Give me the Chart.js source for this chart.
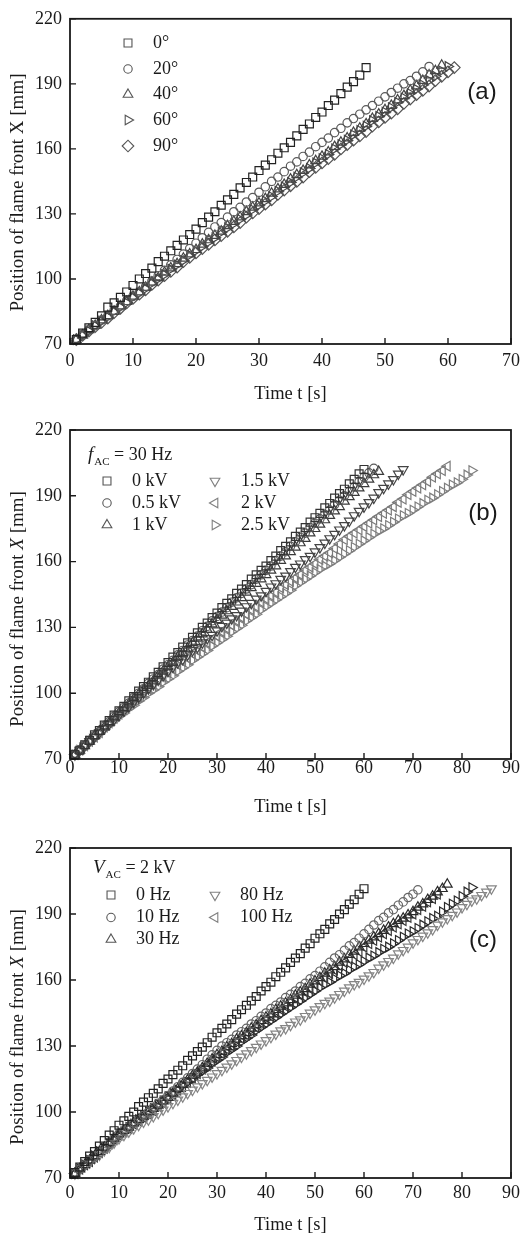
<!DOCTYPE html>
<html>
<head>
<meta charset="utf-8">
<script src="https://cdn.jsdelivr.net/npm/chart.js@4.4.1/dist/chart.umd.min.js"></script>
<style>
  html, body { margin: 0; padding: 0; background: #fff; }
  #wrap { position: relative; width: 531px; height: 1236px; }
  canvas { position: absolute; left: 0; }
</style>
</head>
<body>
<div id="wrap">
  <canvas id="chartA" width="531" height="410" style="top:0"></canvas>
  <canvas id="chartB" width="531" height="410" style="top:410px"></canvas>
  <canvas id="chartC" width="531" height="416" style="top:820px"></canvas>
</div>
<script>
// time stamps, one frame per second
const seconds = [1,2,3,4,5,6,7,8,9,10,11,12,13,14,15,16,17,18,19,20,21,22,23,24,25,26,27,28,29,30,
  31,32,33,34,35,36,37,38,39,40,41,42,43,44,45,46,47,48,49,50,51,52,53,54,55,56,57,58,59,60,
  61,62,63,64,65,66,67,68,69,70,71,72,73,74,75,76,77,78,79,80,81,82,83,84,85,86];

const xTicksA = [0, 10, 20, 30, 40, 50, 60, 70];
const xTicksBC = [0, 10, 20, 30, 40, 50, 60, 70, 80, 90];
const yTicks = [70, 100, 130, 160, 190, 220];

// (a) inclination angle
const angle0 = [72,75,77.5,80,83,87,89,91.5,94,97,100,102.5,105,108,110.5,113,115.5,118,120.5,123,
  126,128.5,131,134,136.5,139,142,144.5,147,150,152.5,155,158,160.5,163,166,169,171.5,174.5,177,
  180,182.5,185.5,188.5,191,194,197.5];
const angle20 = [72,74,76.5,78.5,81,83,85.5,87.5,90,92,94,96.5,99,101.5,104,106.5,109,111.5,114,116.5,
  119,121.5,124,126,128.5,131,133,135.5,137.5,140,142.5,145,147,149.5,152,154,156.5,158.5,161,163,
  165,167.5,169.5,172,174,176,178,180,182,184,186,188,190,191.5,193.5,195.5,198];
const angle40 = [72,74,76.5,78.5,81,83,85,87.5,89.5,92,94,96,98.5,100.5,103,105,107,109.5,111.5,113.5,
  116,118,120,122,124.5,126.5,128.5,131,133,135,137,139.5,141.5,143.5,146,148,150,152.5,154.5,156.5,
  158.5,161,163,165,167.5,169.5,171.5,174,176,178,180,182.5,184.5,187,189,191.5,194,196,198.5];
const angle60 = [72,74,76,78.5,80.5,82.5,85,87,89,91.5,93.5,95.5,98,100,102,104.5,106.5,108.5,111,113,
  115,117,119,121.5,123.5,125.5,127.5,129.5,132,134,136,138,140.5,142.5,144.5,147,149,151,153.5,155.5,
  157.5,160,162,164,166.5,168.5,170.5,173,175,177,179,181.5,183.5,185.5,187.5,189.5,191.5,193.5,196,198];
const angle90 = [72,74,76,78,80,82,84.5,86.5,89,91,93,95,97.5,99.5,101.5,103.5,105.5,108,110,112,
  114,116,118,120,122,124,126,128.5,130.5,132.5,134.5,136.5,139,141,143,145,147,149.5,151.5,153.5,
  155.5,157.5,160,162,164,166,168,170.5,172.5,174.5,176.5,178.5,181,183,185,187,189,191.5,193.5,195.5,197.5];

// (b) applied voltage at 30 Hz
const kv0 = [72,74,76.5,78.5,81,83,85.5,87.5,90,92,94,96.5,98.5,101,103,105,107.5,109.5,112,114,
  116.5,118.5,121,123,125.5,127.5,130,132,134.5,136.5,139,141,143,145.5,147.5,149.5,152,154,156,158,
  160.5,162.5,165,167,169,171.5,173.5,175.5,178,180,182,184.5,186.5,189,191,193,195.5,197.5,200,202];
const kv05 = [72,74,76,78.5,80.5,82.5,85,87,89.5,91.5,93.5,95.5,98,100,102,104.5,106.5,108.5,111,113,
  115,117.5,119.5,122,124,126,128.5,130.5,133,135,137,139,141.5,143.5,145.5,147.5,149.5,152,154,156,
  158,160.5,162.5,164.5,167,169,171,173,175.5,177.5,179.5,181.5,183.5,186,188,190,192,194,196.5,198.5,
  200.5,202.5];
const kv1 = [72,74,76,78,80.5,82.5,84.5,86.5,89,91,93,95,97.5,99.5,101.5,103.5,105.5,108,110,112,
  114,116.5,118.5,120.5,123,125,127,129,131.5,133.5,135.5,137.5,139.5,141.5,143.5,146,148,150,152,154,
  156,158,160.5,162.5,164.5,166.5,168.5,170.5,173,175,177,179,181,183,185,187.5,189.5,191.5,193.5,195.5,
  197.5,199.5,201];
const kv15 = [72,74,76,78,80,82,84,86,88,90,92,94,96,98,100,102,104,106,108,110,
  112,114,115.5,117.5,119.5,121,123,125,126.5,128.5,130.5,132,134,135.5,137.5,139.5,141,143,144.5,146.5,
  148.5,150,152,153.5,155.5,157.5,159,161,162.5,164.5,166.5,168.5,170.5,172.5,174.5,176.5,178.5,181,183,185,
  187,189,191.5,193.5,195.5,197.5,200,202];
const kv2 = [72,74,76,78,80,82,84.5,86.5,88.5,90.5,92.5,94.5,96.5,98.5,100,102,104,106,107.5,109.5,
  111,113,114.5,116,118,119.5,121,123,124.5,126,128,129.5,131,133,134.5,136,138,139.5,141.5,143,
  144.5,146,148,149.5,151,152.5,154,156,157.5,159,161,162.5,164,166,168,170,171.5,173,174.5,176,
  177.5,179,180.5,182,183.5,185,187,188.5,190.5,192,193.5,195,196.5,198.5,200,201.5,203.5];
const kv25 = [72,74,76,78,79.5,81.5,83.5,85.5,87.5,89.5,91,93,94.5,96.5,98,100,101.5,103,105,106.5,
  108,110,111.5,113,115,116.5,118,119.5,121.5,123,124.5,126,128,129.5,131,133,134.5,136,138,139.5,
  141,142.5,144,145.5,147,149,150.5,152,153.5,155,156.5,158,159,160.5,162,163.5,165,166.5,168,169.5,
  171,172.5,174,175,176.5,178,179.5,181,182,183.5,185,186.5,188,189,190.5,192,193.5,195,196,197.5,
  199.5,201.5];

// (c) frequency at 2 kV
const hz0 = [72.5,75,77.5,80,82,84.5,87,89.5,91.5,94,96,98,100,102.5,104.5,106.5,108.5,110.5,113,115,
  117,119,121,123.5,125.5,127.5,129.5,131.5,134,136,138,140,142,144.5,146.5,148.5,150.5,152.5,155,157,
  159,161.5,163.5,165.5,168,170,172,174.5,176.5,179,181,183,185.5,187.5,190,192,194.5,196.5,199,201.5];
const hz10 = [72,74,76,78,80,81.5,83.5,85.5,88,90,91.5,93,95,96.5,98.5,100,102,104,105.5,107.5,
  109.5,111.5,113.5,115.5,117.5,119.5,121.5,124,126,128,130,131.5,133,135,136.5,138,140,141.5,143.5,145,
  147,148.5,150,152,153.5,155,157,158.5,160.5,162,164,166,168,170,171.5,173.5,175.5,177,179,181,
  183,185,187,188.5,190.5,192,194,195.5,197.5,199,201];
const hz30 = [72,74,76,78,80,82,84,86,88,90,91.5,93,95,96.5,98,100,101.5,103,105,106.5,
  108.5,110.5,112.5,114.5,116.5,118,120,122,124,126,127.5,129.5,131,133,134.5,136,138,139.5,141.5,143,
  144.5,146.5,148,149.5,151,153,154.5,156,158,159.5,161,163,164.5,166,168,169.5,171.5,173,175,176.5,
  178,179.5,181,182.5,184,185.5,187,188,189.5,191,193,194.5,196.5,198,200,201.5,203.5];
const hz80 = [72,73.5,75.5,77,79,80.5,82.5,84,86,88,89.5,91,92.5,94,95.5,96.5,98,99.5,101,102.5,
  104,105.5,107,108.5,110,111.5,113,114.5,116,117.5,119,120.5,122,123.5,125,126.5,128,129.5,131,132.5,
  134,135.5,137,138,139.5,141,142,143.5,145,146.5,148,149.5,150.5,152,153.5,155,156.5,158,159,160.5,
  162,163.5,165.5,167,168.5,170,172,173.5,175,177,178.5,180,181.5,183,185,186.5,188,189.5,191,193,
  194.5,196,197,198.5,200,201.5];
const hz100 = [72,74,76,77.5,79.5,81.5,83.5,85.5,87.5,89.5,91,92.5,94.5,96,97.5,99,100.5,102.5,104,106,
  108,110,111.5,113.5,115.5,117.5,119.5,121,123,125,126.5,128.5,130,132,133.5,135,137,138.5,140.5,142,
  143.5,145,146.5,148,150,151.5,153,154.5,156,158,159.5,161,163,164.5,166.5,168,169.5,171.5,173,175,
  176.5,178,179.5,181,182.5,184,185.5,187,188.5,190,192,193.5,195.5,197,199];
// series drawn with right-pointing triangles, not named in the legend
const hzExtra = [72,74,76,78,80,82,83.5,85.5,87.5,89.5,91,93,94.5,96.5,98,100,101.5,103.5,105,107,
  108.5,110,112,113.5,115,117,118.5,120,122,123.5,125,127,128.5,130,132,133.5,135,137,138.5,140,
  141.5,143,144.5,146,147.5,149,150.5,152,153.5,155,156.5,158,159,160.5,162,163,164.5,166,167,168.5,
  170,171,172.5,174,175,176.5,178,179.5,181,182,183.5,185,186.5,188,189,191,193,194.5,196,198,
  200,202];

const serif = "'Liberation Serif', 'Times New Roman', serif";
const sans = "'Liberation Sans', Arial, sans-serif";
const ink = '#1a1a1a';

const SQUARE = { shape: 'rect', r: 5.6, rot: 0 };
const CIRCLE = { shape: 'circle', r: 4.2, rot: 0 };
const DIAMOND = { shape: 'rectRot', r: 5.8, rot: 0 };
const UP = { shape: 'triangle', r: 5.6, rot: 0 };
const DOWN = { shape: 'triangle', r: 5.6, rot: 180 };
const LEFT = { shape: 'triangle', r: 5.6, rot: -90 };
const RIGHT = { shape: 'triangle', r: 5.6, rot: 90 };

const panels = [
  {
    id: 'chartA', xTicks: xTicksA,
    pad: { top: 15, right: 20, bottom: 5, left: 0 }, xAxisHeight: 61, xTickPad: 6,
    yTitle: { x: 18, y: 192.5, italicX: false },
    tag: { text: '(a)', x: 482, y: 92 },
    series: [
      { values: angle0, label: '0°', mark: SQUARE, color: '#222' },
      { values: angle20, label: '20°', mark: CIRCLE, color: '#5a5a5a' },
      { values: angle40, label: '40°', mark: UP, color: '#444' },
      { values: angle60, label: '60°', mark: RIGHT, color: '#4a4a4a' },
      { values: angle90, label: '90°', mark: DIAMOND, color: '#555' },
    ],
    header: null,
    legend: [
      { i: 0, mx: 128, tx: 153, y: 43, color: '#555' },
      { i: 1, mx: 128, tx: 153, y: 69, color: '#555' },
      { i: 2, mx: 128, tx: 153, y: 94.5, color: '#555' },
      { i: 3, mx: 128, tx: 153, y: 120, color: '#555' },
      { i: 4, mx: 128, tx: 153, y: 146, color: '#555' },
    ],
  },
  {
    id: 'chartB', xTicks: xTicksBC,
    pad: { top: 20, right: 20, bottom: 2, left: 0 }, xAxisHeight: 59, xTickPad: -2,
    yTitle: { x: 18, y: 199, italicX: true },
    tag: { text: '(b)', x: 483, y: 103 },
    series: [
      { values: kv0, label: '0 kV', mark: SQUARE, color: '#333' },
      { values: kv05, label: '0.5 kV', mark: CIRCLE, color: '#5a5a5a' },
      { values: kv1, label: '1 kV', mark: UP, color: '#3a3a3a' },
      { values: kv15, label: '1.5 kV', mark: DOWN, color: '#444' },
      { values: kv2, label: '2 kV', mark: LEFT, color: '#7a7a7a' },
      { values: kv25, label: '2.5 kV', mark: RIGHT, color: '#7f7f7f' },
    ],
    header: { x: 88, y: 45, sym: 'f', value: ' = 30 Hz' },
    legend: [
      { i: 0, mx: 107, tx: 132, y: 71, color: '#555' },
      { i: 1, mx: 107, tx: 132, y: 93, color: '#555' },
      { i: 2, mx: 107, tx: 132, y: 115, color: '#555' },
      { i: 3, mx: 215, tx: 241, y: 71, color: '#808080' },
      { i: 4, mx: 215, tx: 241, y: 93, color: '#808080' },
      { i: 5, mx: 215, tx: 241, y: 115, color: '#808080' },
    ],
  },
  {
    id: 'chartC', xTicks: xTicksBC,
    pad: { top: 28, right: 20, bottom: 0, left: 0 }, xAxisHeight: 58, xTickPad: 4,
    yTitle: { x: 18, y: 207, italicX: true },
    tag: { text: '(c)', x: 483, y: 120 },
    series: [
      { values: hz0, label: '0 Hz', mark: SQUARE, color: '#222' },
      { values: hz10, label: '10 Hz', mark: CIRCLE, color: '#666' },
      { values: hz30, label: '30 Hz', mark: UP, color: '#2a2a2a' },
      { values: hz80, label: '80 Hz', mark: DOWN, color: '#858585' },
      { values: hz100, label: '100 Hz', mark: LEFT, color: '#3a3a3a' },
      { values: hzExtra, label: '', mark: RIGHT, color: '#2a2a2a' },
    ],
    header: { x: 93, y: 48, sym: 'V', value: ' = 2 kV' },
    legend: [
      { i: 0, mx: 111, tx: 136, y: 75, color: '#555' },
      { i: 1, mx: 111, tx: 136, y: 97.5, color: '#555' },
      { i: 2, mx: 111, tx: 136, y: 119.5, color: '#555' },
      { i: 3, mx: 215, tx: 240, y: 75, color: '#808080' },
      { i: 4, mx: 215, tx: 240, y: 97.5, color: '#808080' },
    ],
  },
];

// frame, inward ticks, y title, legend and panel tag
const overlay = {
  id: 'overlay',
  afterDraw(chart, args, p) {
    const { ctx, chartArea: a, scales } = chart;
    ctx.save();
    ctx.strokeStyle = ink;
    ctx.lineWidth = 1.8;
    ctx.strokeRect(a.left, a.top, a.right - a.left, a.bottom - a.top);

    ctx.lineWidth = 1.4;
    ctx.beginPath();
    scales.x.ticks.forEach(t => {
      const px = scales.x.getPixelForValue(t.value);
      ctx.moveTo(px, a.bottom);
      ctx.lineTo(px, a.bottom - 6);
    });
    scales.y.ticks.forEach(t => {
      const py = scales.y.getPixelForValue(t.value);
      ctx.moveTo(a.left, py);
      ctx.lineTo(a.left + 6, py);
    });
    ctx.stroke();

    // rotated y title
    const parts = [
      { t: 'Position of flame front ', f: '19px ' + serif },
      { t: 'X', f: (p.yTitle.italicX ? 'italic ' : '') + '19px ' + serif },
      { t: ' [mm]', f: '19px ' + serif },
    ];
    ctx.fillStyle = ink;
    ctx.textBaseline = 'middle';
    ctx.textAlign = 'left';
    let total = 0;
    parts.forEach(s => { ctx.font = s.f; s.w = ctx.measureText(s.t).width; total += s.w; });
    ctx.save();
    ctx.translate(p.yTitle.x, p.yTitle.y);
    ctx.rotate(-Math.PI / 2);
    let cx = -total / 2;
    parts.forEach(s => { ctx.font = s.f; ctx.fillText(s.t, cx, 0); cx += s.w; });
    ctx.restore();

    // legend header with subscript
    if (p.header) {
      let hx = p.header.x;
      ctx.font = 'italic 19px ' + serif;
      ctx.fillText(p.header.sym, hx, p.header.y);
      hx += ctx.measureText(p.header.sym).width + 1;
      ctx.font = '11px ' + serif;
      ctx.fillText('AC', hx, p.header.y + 7);
      hx += ctx.measureText('AC').width;
      ctx.font = '18px ' + serif;
      ctx.fillText(p.header.value, hx, p.header.y);
    }

    // legend entries
    p.legend.forEach(item => {
      const ds = chart.data.datasets[item.i];
      ctx.strokeStyle = item.color;
      ctx.fillStyle = 'rgba(0,0,0,0)';
      ctx.lineWidth = 1.1;
      Chart.helpers.drawPoint(ctx, {
        pointStyle: ds.pointStyle, rotation: ds.pointRotation,
        radius: ds.pointRadius, borderWidth: 1.1,
      }, item.mx, item.y);
      ctx.fillStyle = ink;
      ctx.font = '18px ' + serif;
      ctx.fillText(ds.label, item.tx, item.y);
    });

    ctx.font = '24px ' + sans;
    ctx.textAlign = 'center';
    ctx.fillText(p.tag.text, p.tag.x, p.tag.y);
    ctx.restore();
  },
};

panels.forEach(p => {
  const datasets = p.series.map(s => ({
    label: s.label,
    data: s.values.map((v, i) => ({ x: seconds[i], y: v })),
    showLine: false,
    pointStyle: s.mark.shape,
    pointRotation: s.mark.rot,
    pointRadius: s.mark.r,
    pointHoverRadius: s.mark.r,
    pointBorderColor: s.color,
    pointBackgroundColor: 'rgba(0,0,0,0)',
    pointBorderWidth: 1.2,
    clip: 6,
  }));

  new Chart(document.getElementById(p.id), {
    type: 'scatter',
    data: { datasets },
    plugins: [overlay],
    options: {
      responsive: false,
      animation: false,
      events: [],
      layout: { padding: p.pad },
      plugins: {
        legend: { display: false },
        tooltip: { enabled: false },
        overlay: p,
      },
      scales: {
        x: {
          type: 'linear',
          min: p.xTicks[0],
          max: p.xTicks[p.xTicks.length - 1],
          afterBuildTicks: s => { s.ticks = p.xTicks.map(v => ({ value: v })); },
          afterFit: s => { s.height = p.xAxisHeight; },
          grid: { display: false, drawTicks: false },
          border: { display: false },
          ticks: {
            padding: p.xTickPad, maxRotation: 0, autoSkip: false, color: ink,
            font: { family: serif, size: 18 },
          },
          title: {
            display: true, text: 'Time t [s]', color: ink, padding: 0,
            font: { family: serif, size: 18.5 },
          },
        },
        y: {
          type: 'linear',
          min: yTicks[0],
          max: yTicks[yTicks.length - 1],
          afterBuildTicks: s => { s.ticks = yTicks.map(v => ({ value: v })); },
          afterFit: s => { s.width = 70; },
          grid: { display: false, drawTicks: false },
          border: { display: false },
          ticks: {
            padding: 8, color: ink,
            font: { family: serif, size: 18 },
          },
        },
      },
    },
  });
});
</script>
</body>
</html>
